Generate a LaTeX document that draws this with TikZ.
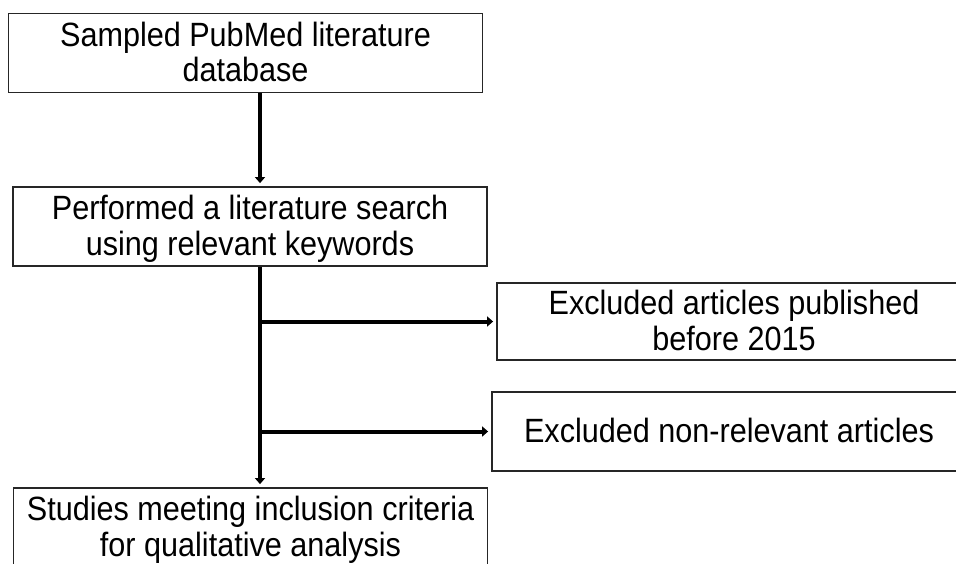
\documentclass[tikz,border=0pt]{standalone}
\usepackage{xcolor}
\usepackage{graphicx}
\usepackage{fontspec}
\setmainfont{Liberation Sans}
\usetikzlibrary{arrows.meta}

% text in the boxes is a little taller than plain Arial
\newcommand{\boxtext}[1]{\raisebox{-2pt}[\height][\depth]{%
  \scalebox{1}[1.1]{\begin{tabular}{@{}c@{}}#1\end{tabular}}}}

\tikzset{
  stepbox/.style={draw=black!85, line width=0.9pt,
    minimum width=237pt, minimum height=39.5pt, inner sep=0pt,
    font=\fontsize{15.3}{16}\selectfont},
  flow/.style={line width=2pt, -{Triangle[width=5pt,length=3pt]},
    shorten >=1.5pt}
}

\begin{document}
\begin{tikzpicture}[x=0.5pt,y=-0.5pt]
          \clip (0,0) rectangle (956,563);

          \node[stepbox] (sampled) at (245.5,53) {\boxtext{Sampled PubMed literature\\database}};
          \node[stepbox] (search) at (250,226.5) {\boxtext{Performed a literature search\\using relevant keywords}};
          \node[stepbox, minimum height=38.5pt] (before) at (734,321.5) {\boxtext{Excluded articles published\\before 2015}};
          \node[stepbox] (nonrel) at (729,431.5) {\boxtext{Excluded non-relevant articles}};
          \node[stepbox] (studies) at (250.5,527.5) {\boxtext{Studies meeting inclusion criteria\\for qualitative analysis}};

          \coordinate (spine) at (260,0);
          \coordinate (j1) at (spine |- before.west);
          \coordinate (j2) at (spine |- nonrel.west);

          \draw[flow] (sampled.south -| spine) -- (search.north -| spine);
          \draw[flow] (search.south -| spine) -- (studies.north -| spine);
          \draw[flow] (j1) -- (before.west);
          \draw[flow] (j2) -- (nonrel.west);

          \end{tikzpicture}
\end{document}
